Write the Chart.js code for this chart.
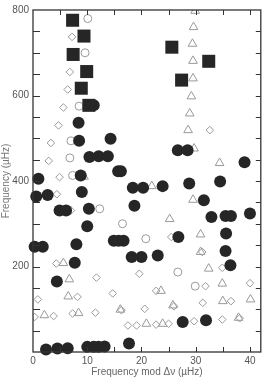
<!DOCTYPE html>
<html>
<head>
<meta charset="utf-8">
<script src="https://cdn.jsdelivr.net/npm/chart.js@4/dist/chart.umd.min.js"></script>
<style>
	html, body { margin: 0; padding: 0; background: #fff; }
	#wrap { width: 270px; height: 378px; }
</style>
</head>
<body>
<div id="wrap"><canvas id="myChart"></canvas></div>
<script>
// Точки: [частота mod Δν, частота]
const filledSquares = [
	[7.3, 776], [9.4, 739], [7.4, 696], [9.9, 656], [8.9, 617], [10.3, 577],
	[25.6, 713], [32.4, 680], [27.4, 636]
];

const filledCircles = [
	[8.4, 536], [11.2, 577], [8.5, 494], [14.3, 499], [10.4, 456], [12.1, 458],
	[13.8, 458], [15.7, 423], [16.2, 423], [1.0, 405], [8.8, 413], [0.6, 364],
	[2.7, 367], [9.0, 374], [18.4, 384], [20.3, 384], [4.9, 331], [6.1, 331],
	[10.3, 335], [10.0, 294], [18.7, 342], [14.9, 260], [15.8, 260], [16.7, 260],
	[0.3, 246], [1.8, 246], [8.0, 252], [7.7, 209], [4.4, 165], [18.2, 222],
	[20.0, 222], [23.0, 226], [2.4, 6], [4.5, 8], [6.4, 9], [10.0, 12],
	[11.2, 12], [12.1, 12], [13.2, 13], [17.7, 20], [26.7, 472], [28.5, 472],
	[39.0, 444], [23.9, 388], [28.8, 394], [34.5, 399], [31.5, 355], [32.9, 316],
	[35.5, 318], [36.5, 318], [40.0, 324], [26.8, 269], [35.6, 277], [35.5, 236],
	[36.4, 203], [27.6, 70], [31.9, 74]
];

const openCircles = [
	[10.1, 780], [9.6, 700], [8.5, 575], [7.0, 494], [6.8, 454], [7.3, 413],
	[12.3, 335], [16.5, 300], [20.8, 265], [26.7, 187], [29.9, 154]
];

const openDiamonds = [
	[7.2, 737], [6.8, 655], [6.4, 614], [5.6, 572], [4.7, 530], [3.3, 489],
	[2.9, 447], [4.9, 409], [4.4, 369], [7.0, 331], [32.6, 519], [25.5, 269],
	[4.3, 207], [11.7, 174], [0.9, 123], [14.7, 137], [8.2, 129], [0.3, 82],
	[3.8, 84], [7.3, 90], [11.5, 92], [16.3, 98], [20.6, 101], [26.0, 107],
	[17.5, 62], [19.1, 62], [22.7, 64], [25.0, 66], [19.6, 183], [22.7, 143],
	[31.2, 234], [34.9, 197], [31.8, 154], [40.0, 161], [31.3, 115], [36.5, 119],
	[29.7, 72], [34.9, 76], [38.1, 79]
];

const openTriangles = [
	[29.9, 798], [29.6, 760], [29.4, 721], [29.5, 681], [29.5, 640], [29.2, 598],
	[28.9, 558], [28.6, 519], [29.7, 476], [34.4, 442], [21.9, 388], [29.5, 356],
	[25.2, 311], [30.9, 275], [30.9, 234], [32.4, 195], [34.9, 160], [35.0, 119],
	[40.1, 123], [37.9, 80], [25.8, 109], [23.6, 143], [16.1, 99], [20.9, 66],
	[23.9, 66], [5.6, 208], [6.7, 170], [6.5, 130], [2.1, 86], [8.4, 91],
	[9.4, 410]
];

const xTicks = [0, 10, 20, 30, 40];
const yTicks = [200, 400, 600, 800];

const dark = '#262626';
const gray = '#9a9a9a';
const axisColor = '#333';
const labelColor = '#555';

function ToPoints(arr) {
	return arr.map(p => ({ x: p[0], y: p[1] }));
}

function OpenSet(arr, style, radius) {
	return {
		data: ToPoints(arr),
		pointStyle: style,
		pointRadius: radius,
		pointBorderColor: gray,
		pointBackgroundColor: 'rgba(0,0,0,0)',
		pointBorderWidth: 1,
		clip: 0
	};
}

function FilledSet(arr, style, radius) {
	return {
		data: ToPoints(arr),
		pointStyle: style,
		pointRadius: radius,
		pointBorderColor: dark,
		pointBackgroundColor: dark,
		pointBorderWidth: 0,
		clip: false
	};
}

// Рамка и внутренние засечки на всех четырёх сторонах
const frameTicks = {
	id: 'frameTicks',
	afterDatasetsDraw(chart) {
		const { ctx, chartArea: a, scales } = chart;
		const xs = scales.x, ys = scales.y;
		ctx.save();
		ctx.strokeStyle = axisColor;
		ctx.lineWidth = 1.3;
		ctx.strokeRect(a.left, a.top, a.right - a.left, a.bottom - a.top);
		ctx.lineWidth = 1;
		ctx.beginPath();
		for (let v = 5; v <= 40; v += 5) {
			const px = Math.round(xs.getPixelForValue(v)) + 0.5;
			ctx.moveTo(px, a.bottom); ctx.lineTo(px, a.bottom - 5);
			ctx.moveTo(px, a.top); ctx.lineTo(px, a.top + 5);
		}
		for (let v = 50; v < 800; v += 50) {
			const py = Math.round(ys.getPixelForValue(v)) + 0.5;
			ctx.moveTo(a.left, py); ctx.lineTo(a.left + 7, py);
			ctx.moveTo(a.right, py); ctx.lineTo(a.right - 5, py);
		}
		ctx.stroke();
		ctx.restore();
	}
};

const ctx = document.getElementById('myChart').getContext('2d');

const chart = new Chart(ctx, {
	type: 'scatter',
	data: {
		datasets: [
			FilledSet(filledSquares, 'rect', 9.2),
			FilledSet(filledCircles, 'circle', 6),
			OpenSet(openTriangles, 'triangle', 5),
			OpenSet(openCircles, 'circle', 4),
			OpenSet(openDiamonds, 'rectRot', 3.8)
		]
	},
	options: {
		responsive: true,
		maintainAspectRatio: false,
		animation: false,
		events: [],
		layout: { padding: { top: 10, right: 5, left: 0, bottom: 0 } },
		plugins: {
			legend: { display: false },
			tooltip: { enabled: false }
		},
		scales: {
			x: {
				type: 'linear',
				min: 0,
				max: 42,
				afterFit: s => { s.height = 26; },
				afterBuildTicks: s => { s.ticks = xTicks.map(v => ({ value: v })); },
				grid: { display: false, drawTicks: false },
				border: { display: false },
				ticks: {
					padding: 3,
					color: labelColor,
					font: { family: 'Liberation Sans, Arial, sans-serif', size: 10 },
					maxRotation: 0
				},
				title: {
					display: true,
					text: 'Frequency mod Δν (µHz)',
					color: '#666',
					padding: 0,
					font: { family: 'Liberation Sans, Arial, sans-serif', size: 10 }
				}
			},
			y: {
				type: 'linear',
				min: 0,
				max: 800,
				afterFit: s => { s.width = 33; },
				afterBuildTicks: s => { s.ticks = yTicks.map(v => ({ value: v })); },
				grid: { display: false, drawTicks: false },
				border: { display: false },
				ticks: {
					padding: 4,
					color: labelColor,
					font: { family: 'Liberation Sans, Arial, sans-serif', size: 10 }
				},
				title: {
					display: true,
					text: 'Frequency (µHz)',
					color: '#777',
					padding: 0,
					font: { family: 'Liberation Sans, Arial, sans-serif', size: 10 }
				}
			}
		}
	},
	plugins: [frameTicks]
});
</script>
</body>
</html>
